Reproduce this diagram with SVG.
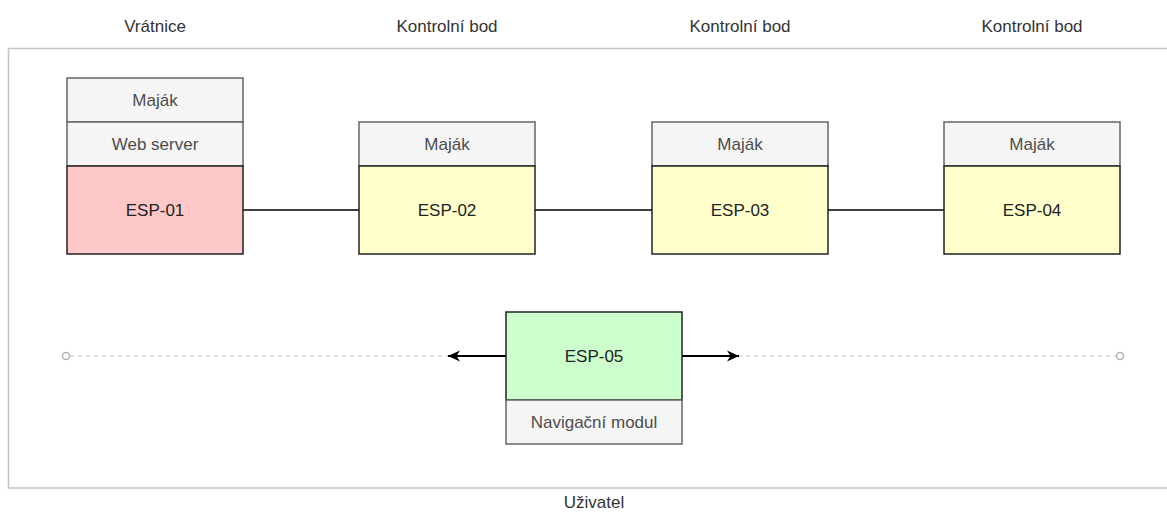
<svg xmlns="http://www.w3.org/2000/svg" width="1167" height="516" viewBox="0 0 1167 516">
<style>
text{font-family:"Liberation Sans",Arial,Helvetica,sans-serif;font-size:17px;text-anchor:middle}
.title{fill:#333333}
.sub{fill:#f5f5f5;stroke:#666666;stroke-width:1.5}
.subt{fill:#4d4d4d}
.esp{stroke:#222222;stroke-width:1.5}
.espt{fill:#222222}
.link{stroke:#000000;stroke-width:1.5;fill:none}
.arrow{stroke:#000000;stroke-width:2;fill:none}
.dash{stroke:#bdbdbd;stroke-width:1.2;stroke-dasharray:4 4;fill:none}
.end{fill:#ffffff;stroke:#b3b3b3;stroke-width:1.5}
</style>
<defs>
<marker id="arr" markerUnits="userSpaceOnUse" markerWidth="16" markerHeight="14" viewBox="-14 -7 16 14" refX="0" refY="0" orient="auto">
<path d="M0,0 L-12,-5.5 L-8.5,0 L-12,5.5 Z" fill="#000000"/>
</marker>
</defs>
<rect x="0" y="0" width="1167" height="516" fill="#ffffff"/>
<g id="container">
<rect x="8.5" y="48.5" width="1170" height="439.5" fill="none" stroke="#c4c4c4" stroke-width="1.5"/>
<text class="title" x="594" y="508">Uživatel</text>
</g>
<g id="labels">
<text class="title" x="155" y="32">Vrátnice</text>
<text class="title" x="447" y="32">Kontrolní bod</text>
<text class="title" x="740" y="32">Kontrolní bod</text>
<text class="title" x="1032" y="32">Kontrolní bod</text>
</g>
<g id="connectors">
<line class="link" x1="243" y1="210" x2="359" y2="210"/>
<line class="link" x1="535" y1="210" x2="652" y2="210"/>
<line class="link" x1="828" y1="210" x2="944" y2="210"/>
<line class="dash" x1="70" y1="356" x2="449" y2="356"/>
<line class="dash" x1="738" y1="356" x2="1116" y2="356"/>
<circle class="end" cx="66" cy="356" r="3.5"/>
<circle class="end" cx="1120" cy="356" r="3.5"/>
<line class="arrow" x1="506" y1="356" x2="448" y2="356" marker-end="url(#arr)"/>
<line class="arrow" x1="682" y1="356" x2="739" y2="356" marker-end="url(#arr)"/>
</g>
<g id="esp01">
<rect class="sub" x="67" y="78" width="176" height="44"/>
<text class="subt" x="155" y="106">Maják</text>
<rect class="sub" x="67" y="122" width="176" height="44"/>
<text class="subt" x="155" y="150">Web server</text>
<rect class="esp" x="67" y="166" width="176" height="88" fill="#ffc8c8"/>
<text class="espt" x="155" y="216">ESP-01</text>
</g>
<g id="esp02">
<rect class="sub" x="359" y="122" width="176" height="44"/>
<text class="subt" x="447" y="150">Maják</text>
<rect class="esp" x="359" y="166" width="176" height="88" fill="#ffffcc"/>
<text class="espt" x="447" y="216">ESP-02</text>
</g>
<g id="esp03">
<rect class="sub" x="652" y="122" width="176" height="44"/>
<text class="subt" x="740" y="150">Maják</text>
<rect class="esp" x="652" y="166" width="176" height="88" fill="#ffffcc"/>
<text class="espt" x="740" y="216">ESP-03</text>
</g>
<g id="esp04">
<rect class="sub" x="944" y="122" width="176" height="44"/>
<text class="subt" x="1032" y="150">Maják</text>
<rect class="esp" x="944" y="166" width="176" height="88" fill="#ffffcc"/>
<text class="espt" x="1032" y="216">ESP-04</text>
</g>
<g id="esp05">
<rect class="esp" x="506" y="312" width="176" height="88" fill="#ccffcc"/>
<text class="espt" x="594" y="362">ESP-05</text>
<rect class="sub" x="506" y="400" width="176" height="44"/>
<text class="subt" x="594" y="428">Navigační modul</text>
</g>
</svg>
